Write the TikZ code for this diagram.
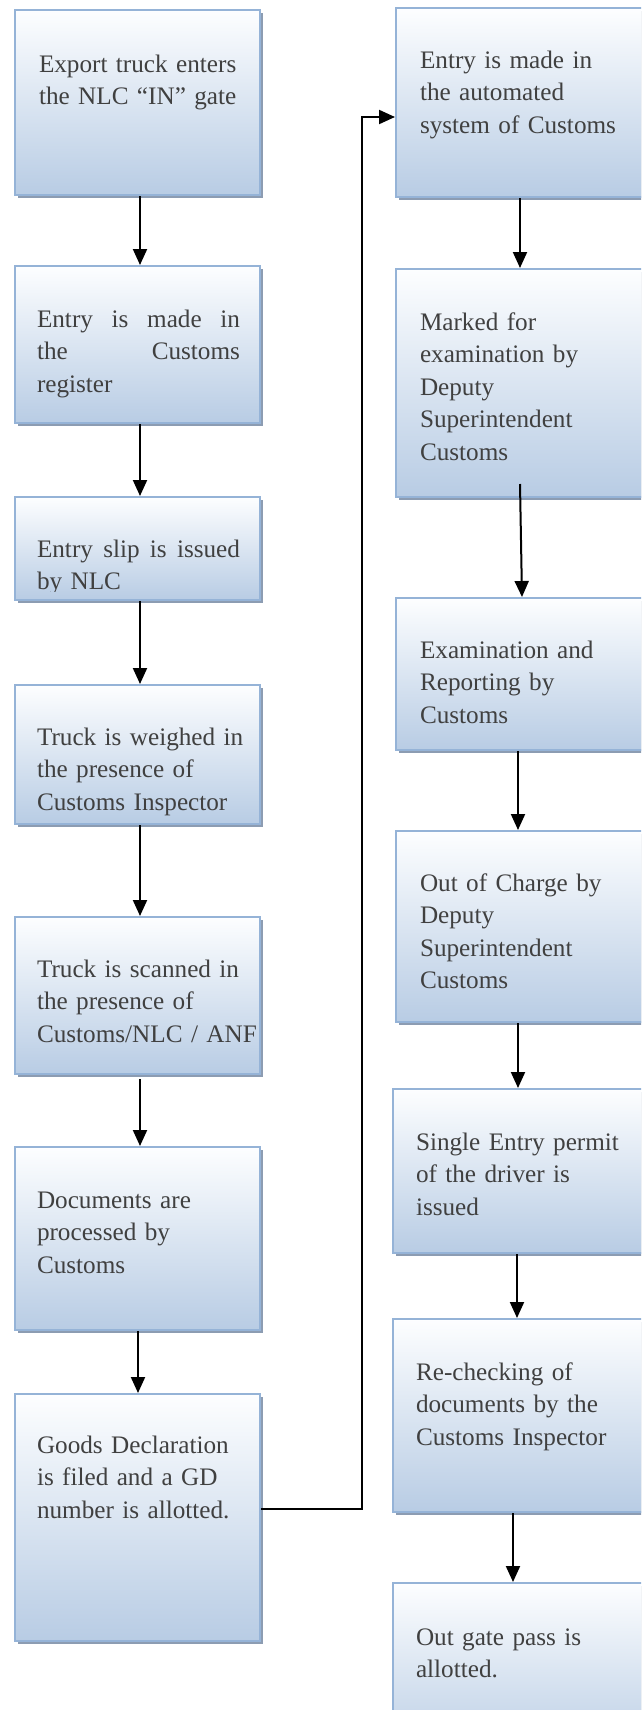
\documentclass[tikz,border=0pt]{standalone}
\usepackage{fontspec}
\setmainfont{Liberation Serif}
\usetikzlibrary{arrows.meta, shadows}

\definecolor{boxtop}{RGB}{253,254,255}
\definecolor{boxbottom}{RGB}{184,204,228}
\definecolor{boxline}{RGB}{149,179,215}
\definecolor{boxshadow}{RGB}{140,156,178}
\definecolor{textgray}{RGB}{64,64,64}

\begin{document}
\begin{tikzpicture}[
        x = 1pt, y = -1pt, % pixel units, y downwards
        > = {Triangle[length=16pt, width=14pt]}, % arrow head style
        line width = 2pt
    ]

    \tikzstyle{box}=[
        draw = boxline,
        line width = 2pt,
        top color = boxtop,
        bottom color = boxbottom,
        minimum width = 245pt,
        inner sep = 0pt,
        drop shadow = {shadow xshift=3pt, shadow yshift=-3pt, fill=boxshadow, opacity=1}
    ]
    \tikzstyle{txt}=[
        anchor = base west,
        text width = 225pt,
        align = left,
        inner sep = 0pt,
        text = textgray,
        font = \fontsize{25.2}{32.5}\selectfont
    ]
    \tikzstyle{flow}=[->, black, line width=2pt]

    \useasboundingbox (0,0) rectangle (641,1710);
    \clip (0,0) rectangle (641,1710);

    % left column
    \node[box, minimum height=185pt] (l1) at (137.5,102.5) {};
    \node[box, minimum height=157pt] (l2) at (137.5,344.5) {};
    \node[box, minimum height=103pt] (l3) at (137.5,548.5) {};
    \node[box, minimum height=139pt] (l4) at (137.5,754.5) {};
    \node[box, minimum height=157pt] (l5) at (137.5,995.5) {};
    \node[box, minimum height=183pt] (l6) at (137.5,1238.5) {};
    \node[box, minimum height=247pt] (l7) at (137.5,1517.5) {};

    \node[txt] (l1text) at (38,72) {Export truck enters\\the NLC “IN” gate};
    \node[txt, text width=203pt] (l2text) at (36,327)
        {Entry\hfill is\hfill made\hfill in\\the\hfill Customs\\register};
    \begin{scope}
        \clip (15,497) rectangle (260,591);
        \node[txt, text width=203pt] (l3text) at (36,557)
            {Entry\hfill slip\hfill is\hfill issued\\by NLC};
    \end{scope}
    \node[txt] (l4text) at (36,745) {Truck is weighed in\\the presence of\\Customs Inspector};
    \node[txt] (l5text) at (36,977) {Truck is scanned in\\the presence of\\Customs/NLC / ANF};
    \node[txt] (l6text) at (36,1208) {Documents are\\processed by\\Customs};
    \node[txt] (l7text) at (36,1453) {Goods Declaration\\is filed and a GD\\number is allotted.};

    % right column
    \node[box, minimum width=264pt, minimum height=189pt] (r1) at (528,102.5) {};
    \node[box, minimum width=264pt, minimum height=228pt] (r2) at (528,383) {};
    \node[box, minimum width=264pt, minimum height=152pt] (r3) at (528,674) {};
    \node[box, minimum width=264pt, minimum height=191pt] (r4) at (528,926.5) {};
    \node[box, minimum width=267pt, minimum height=164pt] (r5) at (526.5,1171) {};
    \node[box, minimum width=267pt, minimum height=193pt] (r6) at (526.5,1415.5) {};
    \node[box, minimum width=267pt, minimum height=177pt] (r7) at (526.5,1671.5) {};

    \node[txt] (r1text) at (419,68) {Entry is made in\\the automated\\system of Customs};
    \node[txt] (r2text) at (419,330) {Marked for\\examination by\\Deputy\\Superintendent\\Customs};
    \node[txt] (r3text) at (419,658) {Examination and\\Reporting by\\Customs};
    \node[txt] (r4text) at (419,891) {Out of Charge by\\Deputy\\Superintendent\\Customs};
    \node[txt] (r5text) at (415,1150) {Single Entry permit\\of the driver is\\issued};
    \node[txt] (r6text) at (415,1380) {Re-checking of\\documents by the\\Customs Inspector};
    \node[txt] (r7text) at (415,1645) {Out gate pass is\\allotted.};

    % arrows down the left column
    \draw[flow] ([xshift=2.5pt]l1.south) -- ([xshift=2.5pt]l2.north);
    \draw[flow] ([xshift=2.5pt]l2.south) -- ([xshift=2.5pt]l3.north);
    \draw[flow] ([xshift=2.5pt]l3.south) -- ([xshift=2.5pt]l4.north);
    \draw[flow] ([xshift=2.5pt]l4.south) -- ([xshift=2.5pt]l5.north);
    \draw[flow] ([xshift=2.5pt,yshift=-4pt]l5.south) -- ([xshift=2.5pt]l6.north);
    \draw[flow] ([xshift=0.5pt]l6.south) -- ([xshift=0.5pt]l7.north);

    % over to the right column
    \coordinate (bend) at (362,117);
    \draw[flow] ([yshift=8.5pt]l7.east) -| (bend) -- (bend -| r1.west);

    % arrows down the right column
    \draw[flow] ([xshift=-8pt]r1.south) -- ([xshift=-8pt]r2.north);
    \draw[flow] ([xshift=-8pt,yshift=14pt]r2.south) -- ([xshift=-6pt]r3.north);
    \draw[flow] ([xshift=-10pt]r3.south) -- ([xshift=-10pt]r4.north);
    \draw[flow] ([xshift=-10pt]r4.south) -- ([xshift=-8.5pt]r5.north);
    \draw[flow] ([xshift=-9.5pt]r5.south) -- ([xshift=-9.5pt]r6.north);
    \draw[flow] ([xshift=-13.5pt]r6.south) -- ([xshift=-13.5pt]r7.north);
\end{tikzpicture}
\end{document}
